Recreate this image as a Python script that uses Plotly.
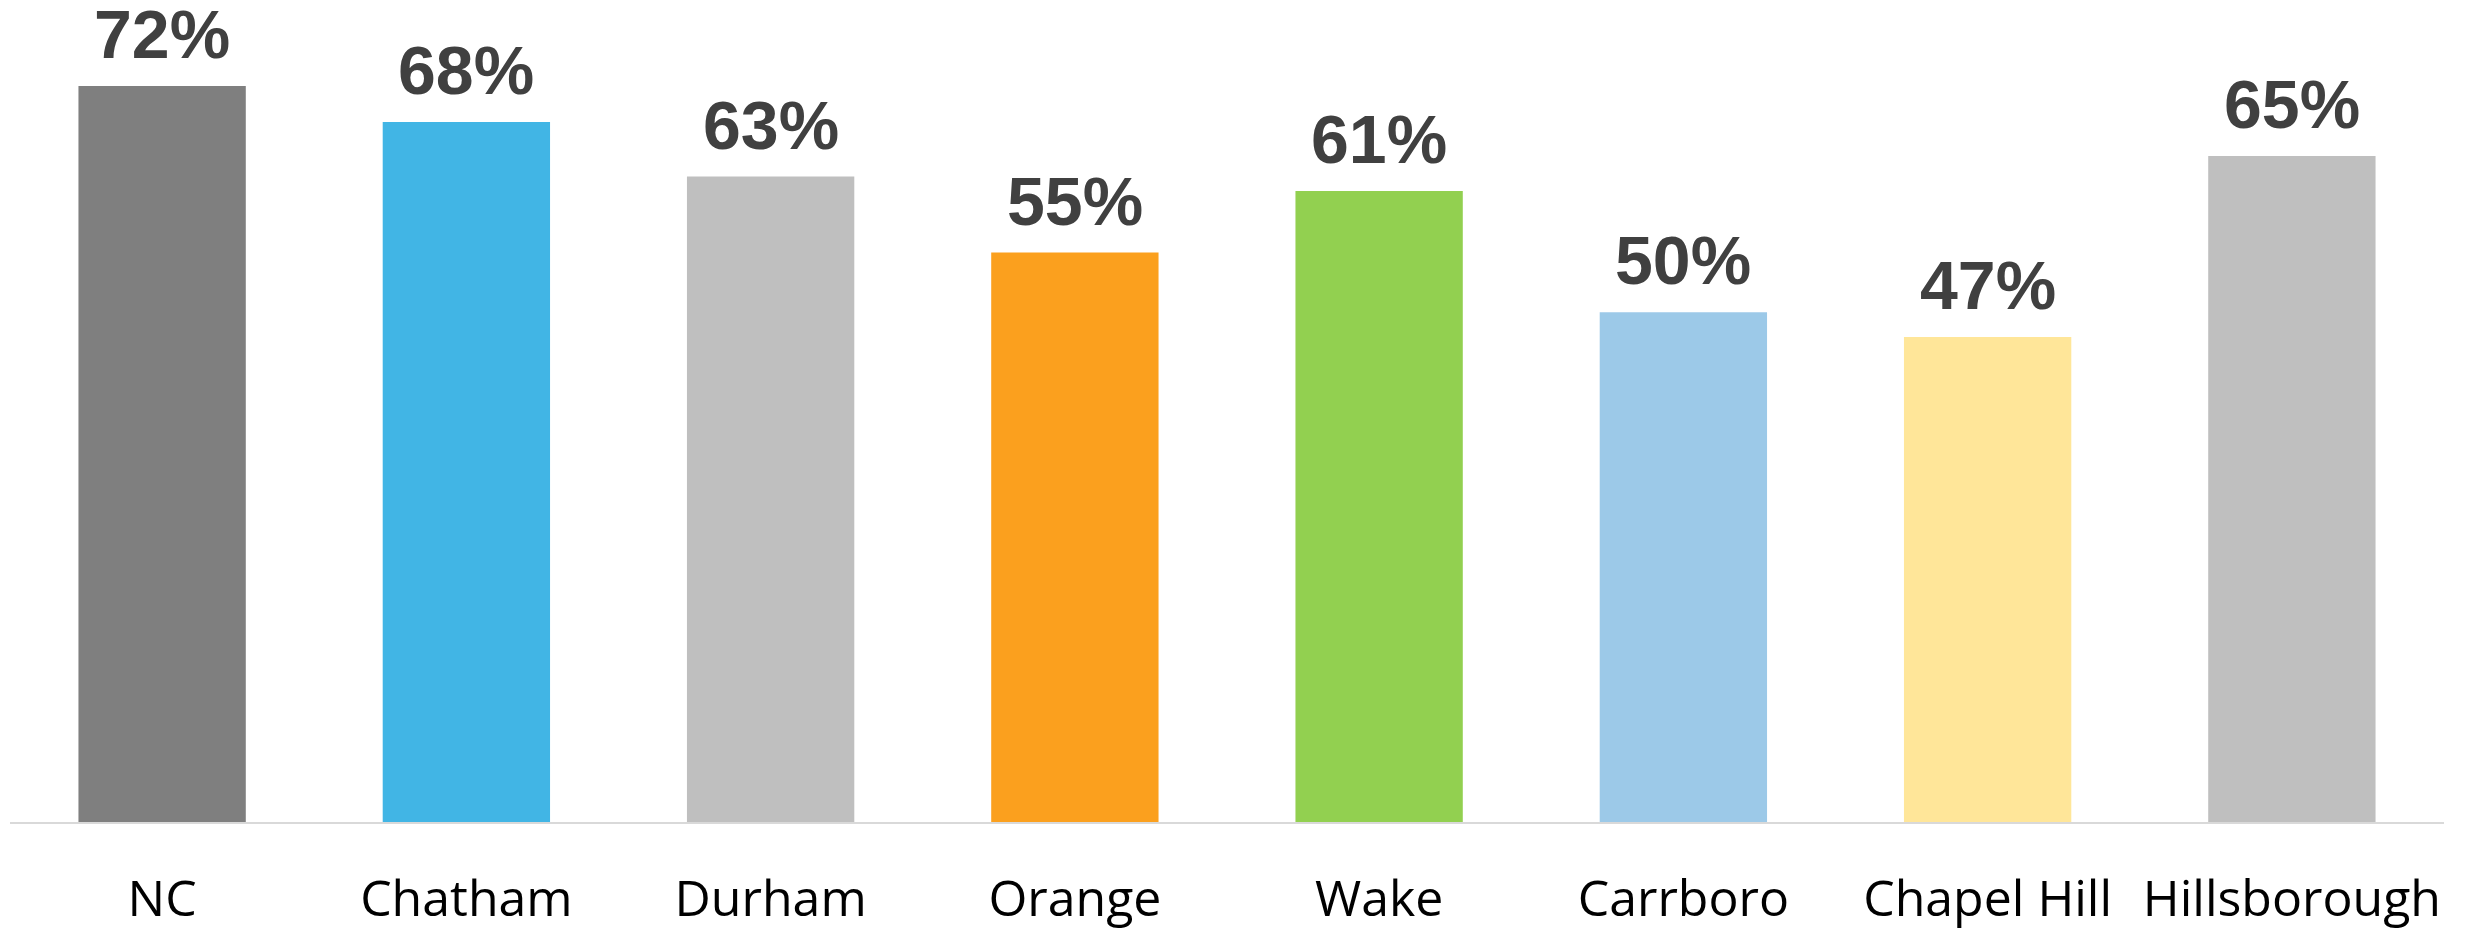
import plotly.graph_objects as go

# Share of respondents by area (labels rounded to whole %)
areas = ["NC", "Chatham", "Durham", "Orange", "Wake", "Carrboro", "Chapel Hill", "Hillsborough"]
values = [71.6, 68.1, 62.8, 55.4, 61.4, 49.6, 47.2, 64.8]
bar_colors = ["#7F7F7F", "#41B5E5", "#BFBFBF", "#FBA01E", "#92D050", "#9CC9E8", "#FFE699", "#BFBFBF"]
value_labels = ["{:.0f}%".format(v) for v in values]

fig = go.Figure(go.Bar(x=areas, y=values, marker_color=bar_colors, marker_line_width=0,
                       hoverinfo="skip"))

# data labels above each bar
for a, v, t in zip(areas, values, value_labels):
    fig.add_annotation(x=a, y=v, text="<b>{}</b>".format(t), showarrow=False,
                       yanchor="bottom", yshift=12,
                       font=dict(family="Liberation Sans, Arial", size=68, color="#404040"))

fig.update_layout(
    width=2468, height=928,
    margin=dict(l=2, r=32, t=0, b=114),
    paper_bgcolor="white", plot_bgcolor="white",
    bargap=0.45, showlegend=False,
)
fig.update_xaxes(showline=True, linecolor="#D9D9D9", linewidth=2,
                 ticks="outside", ticklen=32, tickcolor="rgba(0,0,0,0)",
                 tickfont=dict(family="Open Sans", size=50, color="black"))
fig.update_yaxes(range=[0, 79.2], visible=False, showgrid=False, zeroline=False)

fig.write_html("out.html")
